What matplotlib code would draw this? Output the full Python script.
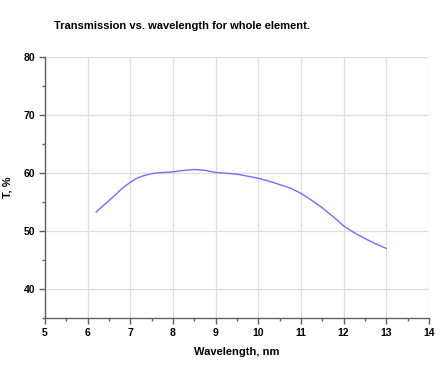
import matplotlib
matplotlib.use("Agg")
import matplotlib.pyplot as plt
from matplotlib.ticker import MultipleLocator

wavelength = [6.2, 6.4, 6.6, 6.8, 7.0, 7.15, 7.3, 7.45, 7.6, 8.0, 8.25, 8.5, 8.75, 9.0, 9.5,
              10.0, 10.25, 10.5, 10.75, 11.0, 11.25, 11.5, 11.75, 12.0, 12.25, 12.5, 12.75, 13.0]
transmission = [53.3, 54.6, 55.9, 57.3, 58.4, 59.1, 59.5, 59.8, 60.0, 60.2, 60.45, 60.6, 60.45, 60.1, 59.8,
                59.1, 58.6, 58.0, 57.4, 56.5, 55.3, 54.0, 52.5, 50.9, 49.7, 48.7, 47.8, 47.0]

title = "Transmission vs. wavelength for whole element."
xlabel = "Wavelength, nm"
ylabel = "T, %"

plt.rcParams['font.family'] = ['Liberation Sans', 'DejaVu Sans']

fig = plt.figure(figsize=(4.44, 3.65), dpi=100)
ax = fig.add_axes([0.1014, 0.1288, 0.8646, 0.715])

ax.plot(wavelength, transmission, color='#7070ff', lw=1.0)

ax.set_xlim(5, 14)
ax.set_ylim(35, 80)
ax.xaxis.set_major_locator(MultipleLocator(1))
ax.xaxis.set_minor_locator(MultipleLocator(0.5))
ax.yaxis.set_major_locator(MultipleLocator(10))
ax.yaxis.set_minor_locator(MultipleLocator(5))

ax.grid(True, which='major', color='#dedede', lw=0.9)
for s in ['top', 'right']:
    ax.spines[s].set_visible(False)
for s in ['left', 'bottom']:
    ax.spines[s].set_color('#606060')
    ax.spines[s].set_linewidth(1.0)

ax.tick_params(axis='both', which='major', direction='out', length=4, width=1, color='#606060',
               labelsize=7.5, pad=3)
ax.tick_params(axis='both', which='minor', direction='out', length=2, width=1, color='#606060')
for lab in ax.get_xticklabels() + ax.get_yticklabels():
    lab.set_fontweight('bold')

ax.set_xlabel(xlabel, fontsize=8, fontweight='bold', labelpad=7)
ax.set_ylabel(ylabel, fontsize=8, fontweight='bold', labelpad=8)
fig.text(0.41, 0.93, title, fontsize=8, fontweight='bold', ha='center', va='center')

fig.savefig("out.png", dpi=100)
